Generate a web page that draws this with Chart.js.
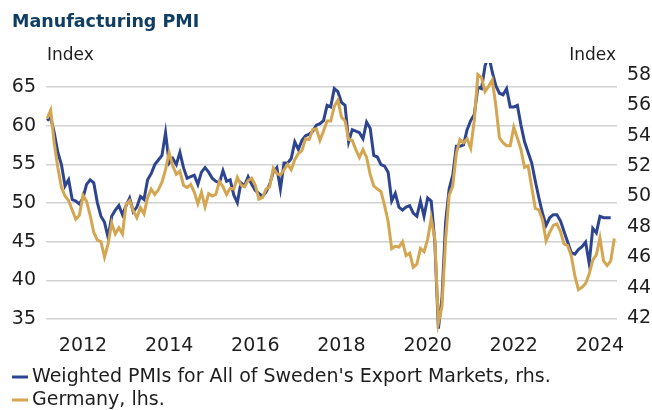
<!DOCTYPE html>
<html>
<head>
<meta charset="utf-8">
<script src="https://cdn.jsdelivr.net/npm/chart.js@4.4.1/dist/chart.umd.min.js"></script>
<style>
  body { margin: 0; background: #fff; }
  #pmiChart { display: block; }
</style>
</head>
<body>
<canvas id="pmiChart" width="652" height="410"></canvas>
<script>
// --- data: monthly, Mar 2011 .. May 2024 ---
var startYear = 2011, startMonth = 3;
var monthCount = 159;

// Weighted PMIs for Sweden's export markets (right axis)
var exportPmi = [
    55.0, 55.2, 54.2, 52.9, 52.1, 50.7, 51.1, 49.8, 49.7, 49.5,          // 2011
    49.9, 50.8, 51.1, 50.9, 49.6, 48.7, 48.3, 47.3, 48.7, 49.1, 49.4, 48.8, // 2012
    49.4, 49.9, 49.0, 49.3, 50.0, 49.8, 51.1, 51.5, 52.1, 52.4, 52.7, 54.2, // 2013
    52.2, 52.5, 52.1, 52.9, 51.9, 51.2, 51.3, 51.4, 50.8, 51.6, 51.9, 51.6, // 2014
    51.2, 51.0, 50.9, 51.7, 51.0, 51.1, 50.1, 49.6, 50.9, 50.7, 51.3, 50.8, // 2015
    50.4, 50.2, 50.0, 50.3, 50.8, 51.6, 51.9, 50.5, 52.2, 52.2, 52.5, 53.6, // 2016
    53.1, 53.7, 54.0, 54.1, 54.3, 54.7, 54.8, 55.0, 56.0, 55.9, 57.1, 56.9, // 2017
    56.2, 56.0, 53.6, 54.4, 54.3, 54.2, 53.8, 54.9, 54.5, 52.7, 52.6, 52.1, // 2018
    52.0, 51.6, 49.7, 50.2, 49.3, 49.1, 49.3, 49.4, 48.9, 48.7, 49.7, 48.7, // 2019
    49.9, 49.7, 47.0, 41.3, 43.3, 48.3, 50.5, 51.4, 53.3, 53.3, 53.4, 54.4, // 2020
    55.0, 55.4, 57.2, 57.1, 58.6, 59.3, 58.2, 57.3, 56.8, 56.7, 57.1, 55.9, // 2021
    55.9, 56.0, 54.7, 53.6, 52.9, 52.2, 51.0, 49.9, 48.9, 48.1, 48.6, 48.8, // 2022
    48.8, 48.4, 47.7, 47.0, 46.3, 46.2, 46.5, 46.7, 47.0, 45.6, 47.9, 47.6, // 2023
    48.7, 48.6, 48.6, 48.6, null                                          // 2024
];

// Germany manufacturing PMI (left axis)
var germanyPmi = [
    60.9, 62.0, 57.7, 54.6, 52.0, 50.9, 50.3, 49.1, 47.9, 48.4,          // 2011
    51.0, 50.2, 48.4, 46.2, 45.2, 45.0, 43.0, 44.7, 47.4, 46.0, 46.8, 46.0, // 2012
    49.8, 50.3, 49.0, 48.1, 49.4, 48.6, 50.7, 51.8, 51.1, 51.7, 52.7, 54.3, // 2013
    56.5, 54.8, 53.7, 54.1, 52.3, 52.0, 52.4, 51.4, 49.9, 51.4, 49.5, 51.2, // 2014
    50.9, 51.1, 52.8, 52.1, 51.1, 51.9, 51.8, 53.3, 52.3, 52.1, 52.9, 53.2, // 2015
    52.3, 50.5, 50.7, 51.8, 52.1, 54.5, 53.8, 53.6, 54.3, 55.0, 54.3, 55.6, // 2016
    56.4, 56.8, 58.3, 58.2, 59.5, 59.6, 58.1, 59.3, 60.6, 60.6, 62.5, 63.3, // 2017
    61.1, 60.6, 58.2, 58.1, 56.9, 55.9, 56.9, 55.9, 53.7, 52.2, 51.8, 51.5, // 2018
    49.7, 47.6, 44.1, 44.4, 44.3, 45.0, 43.2, 43.5, 41.7, 42.1, 44.1, 43.7, // 2019
    45.3, 48.0, 45.4, 34.5, 36.6, 45.2, 51.0, 52.2, 56.4, 58.2, 57.8, 58.3, // 2020
    57.1, 60.7, 66.6, 66.2, 64.4, 65.1, 65.9, 62.6, 58.4, 57.8, 57.4, 57.4, // 2021
    59.8, 58.4, 56.9, 54.6, 54.8, 52.0, 49.3, 49.1, 47.8, 45.1, 46.2, 47.1, // 2022
    47.3, 46.3, 44.7, 44.5, 43.2, 40.6, 38.8, 39.1, 39.6, 40.8, 42.6, 43.3, // 2023
    45.5, 42.5, 41.9, 42.5, 45.4                                          // 2024
];

var yearTicks = ['2012', '2014', '2016', '2018', '2020', '2022', '2024'];
var leftTicks = [35, 40, 45, 50, 55, 60, 65];
var rightTicks = [42, 44, 46, 48, 50, 52, 54, 56, 58];

var seriesNames = ["Weighted PMIs for All of Sweden's Export Markets, rhs.", "Germany, lhs."];

// month labels, "YYYY-MM"
var months = [];
for (var i = 0; i < monthCount; i++) {
    var mm = startMonth - 1 + i;
    var yy = startYear + Math.floor(mm / 12);
    months.push(yy + '-' + ('0' + (mm % 12 + 1)).slice(-2));
}

var navy = '#2d4590';
var gold = '#d4a651';
var textColor = '#1e1e1e';
var fontFamily = '"DejaVu Sans", sans-serif';

function toPoints(values) {
    return values.map(function (v, i) { return { x: i, y: v }; });
}

// title, axis captions and legend
var textPlugin = {
    id: 'pmiText',
    afterDraw: function (chart) {
        var c = chart.ctx;
        c.save();
        c.textBaseline = 'alphabetic';
        c.fillStyle = '#0f3e62';
        c.font = 'bold 17.5px ' + fontFamily;
        c.fillText('Manufacturing PMI', 12, 27);

        c.fillStyle = textColor;
        c.font = '17px ' + fontFamily;
        c.textAlign = 'left';
        c.fillText('Index', 47, 60);
        c.textAlign = 'right';
        c.fillText('Index', 616, 60);

        // legend
        c.font = '19px ' + fontFamily;
        c.textAlign = 'left';
        c.textBaseline = 'middle';
        var rows = [[navy, 377], [gold, 400]];
        for (var k = 0; k < rows.length; k++) {
            c.fillStyle = rows[k][0];
            c.fillRect(12, rows[k][1] - 1.5, 16, 3);
            c.fillStyle = textColor;
            c.fillText(seriesNames[k], 32, rows[k][1]);
        }
        c.restore();
    }
};

var ctx = document.getElementById('pmiChart').getContext('2d');
var pmiChart = new Chart(ctx, {
    type: 'line',
    data: {
        datasets: [{
            label: seriesNames[0],
            data: toPoints(exportPmi),
            yAxisID: 'yRight',
            borderColor: navy,
            borderWidth: 3,
            pointRadius: 0,
            tension: 0,
            clip: 0,
            order: 1
        }, {
            label: seriesNames[1],
            data: toPoints(germanyPmi),
            yAxisID: 'yLeft',
            borderColor: gold,
            borderWidth: 3,
            pointRadius: 0,
            tension: 0,
            clip: 0,
            order: 0
        }]
    },
    options: {
        responsive: false,
        animation: false,
        layout: { padding: { top: 63, bottom: 47, left: 0, right: 0 } },
        plugins: {
            legend: { display: false },
            tooltip: { enabled: false }
        },
        scales: {
            x: {
                type: 'linear',
                min: -0.3,
                max: 158.75,
                grid: { display: false, drawTicks: false },
                border: { display: false },
                afterBuildTicks: function (scale) {
                    scale.ticks = yearTicks.map(function (y) {
                        return { value: months.indexOf(y + '-01') };
                    });
                },
                ticks: {
                    autoSkip: false,
                    maxRotation: 0,
                    padding: 2,
                    color: textColor,
                    font: { family: fontFamily, size: 19 },
                    callback: function (value) { return months[value].slice(0, 4); }
                },
                afterFit: function (scale) { scale.height = 30; }
            },
            yLeft: {
                position: 'left',
                min: 33.19,
                max: 68.1,
                afterBuildTicks: function (scale) {
                    scale.ticks = leftTicks.map(function (v) { return { value: v }; });
                },
                grid: { color: '#d2d2d2', lineWidth: 1.5, drawTicks: false },
                border: { display: false },
                ticks: {
                    padding: 10,
                    color: textColor,
                    font: { family: fontFamily, size: 19 }
                },
                afterFit: function (scale) { scale.width = 46; }
            },
            yRight: {
                position: 'right',
                min: 41.01,
                max: 58.79,
                afterBuildTicks: function (scale) {
                    scale.ticks = rightTicks.map(function (v) { return { value: v }; });
                },
                grid: { display: false, drawTicks: false },
                border: { display: false },
                ticks: {
                    padding: 10,
                    color: textColor,
                    font: { family: fontFamily, size: 19 }
                },
                afterFit: function (scale) { scale.width = 35; }
            }
        }
    },
    plugins: [textPlugin]
});
</script>
</body>
</html>
